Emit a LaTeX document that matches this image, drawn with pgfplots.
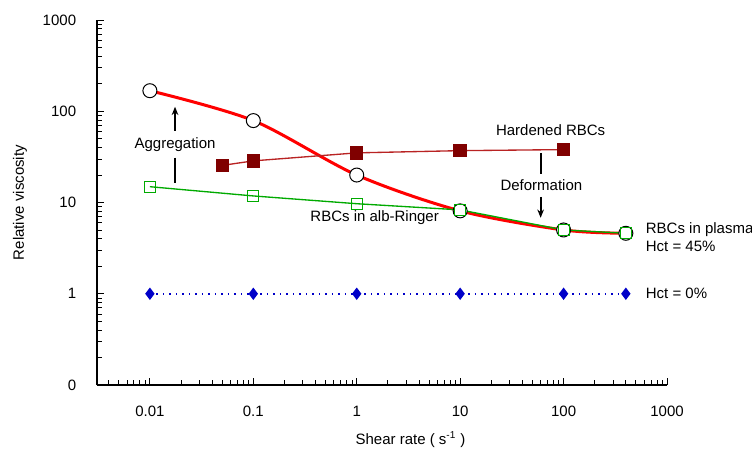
\documentclass[border=0pt]{standalone}
\usepackage{fontspec}
\setmainfont{Liberation Sans}
\usepackage{pgfplots}
\pgfplotsset{compat=1.18}
\usetikzlibrary{arrows.meta}

\definecolor{plasmared}{RGB}{255,0,0}
\definecolor{hardfill}{RGB}{128,0,0}
\definecolor{hardline}{RGB}{185,35,35}
\definecolor{ringer}{RGB}{0,170,0}
\definecolor{hct}{RGB}{0,0,200}

\begin{document}
\begin{tikzpicture}[font=\fontsize{9}{11}\selectfont]
\begin{axis}[
    name=ax,
    scale only axis,
    width=342pt, height=219pt,
    xmode=log, ymode=log,
    xmin=0.00308, xmax=1000,
    ymin=0.1, ymax=1000,
    axis lines=left,
    axis line style={-, line width=0.7pt},
    tick style={black, line width=0.5pt},
    tick align=inside,
    major tick length=4pt, minor tick length=3pt,
    xtick={0.01,0.1,1,10,100,1000},
    xticklabels={0.01,0.1,1,10,100,1000},
    minor xtick={0.004,0.005,0.006,0.007,0.008,0.009,
        0.02,0.03,0.04,0.05,0.06,0.07,0.08,0.09,
        0.2,0.3,0.4,0.5,0.6,0.7,0.8,0.9,
        2,3,4,5,6,7,8,9,20,30,40,50,60,70,80,90,
        200,300,400,500,600,700,800,900},
    ytick={0.1,1,10,100,1000},
    yticklabels={0,1,10,100,1000},
    minor ytick={0.2,0.3,0.4,0.5,0.6,0.7,0.8,0.9,
        2,3,4,5,6,7,8,9,20,30,40,50,60,70,80,90,
        200,300,400,500,600,700,800,900},
    xticklabel style={yshift=-9pt},
    yticklabel style={xshift=-9pt},
    xlabel={Shear rate ( s\textsuperscript{-1} )},
    ylabel={Relative viscosity},
    xlabel style={at={(axis description cs:0.55,-0.15)}, anchor=center},
    ylabel style={at={(axis description cs:-0.135,0.5)}, anchor=center},
    clip=false,
]
% Hct = 0%
\addplot[hct, line width=0.9pt, dash pattern=on 0.9pt off 3pt, mark=diamond*, mark size=3pt,
    mark options={solid, fill=hct}]
    coordinates {(0.01,1) (0.1,1) (1,1) (10,1) (100,1) (400,1)};
% RBCs in plasma, Hct = 45%
\addplot[plasmared, line width=1.8pt, smooth, mark=*, mark size=4.2pt,
    mark options={draw=black, fill=white, line width=0.6pt}]
    coordinates {(0.01,168) (0.1,79) (1,20) (10,8.1) (100,5.0) (400,4.6)};
% Hardened RBCs
\addplot[hardline, line width=0.8pt, mark=square*, mark size=3.6pt,
    mark options={draw=hardfill, fill=hardfill}]
    coordinates {(0.05,25.5) (0.1,28.6) (1,35) (10,37) (100,38)};
% RBCs in alb-Ringer
\addplot[ringer, line width=0.8pt, mark=square, mark size=3.3pt,
    mark options={fill=white, line width=0.7pt}]
    coordinates {(0.01,14.9) (0.1,11.8) (1,9.7) (10,8.3) (100,5.0) (400,4.6)};

% annotations
\draw[-{Stealth[length=5pt,width=4pt]}, line width=1.1pt] (axis cs:0.0175,61) -- (axis cs:0.0175,112);
\draw[line width=1.1pt] (axis cs:0.0175,31) -- (axis cs:0.0175,16.4);
\node at (axis cs:0.0175,43) {Aggregation};
\node at (axis cs:75,62) {Hardened RBCs};
\draw[line width=1.1pt] (axis cs:60,35) -- (axis cs:60,20.6);
\node at (axis cs:61,15.6) {Deformation};
\draw[-{Stealth[length=5pt,width=4pt]}, line width=1.1pt] (axis cs:60,11.5) -- (axis cs:60,6.8);
\node at (axis cs:1.49,6.8) {RBCs in alb-Ringer};
\node[anchor=west, inner sep=0pt] at (axis cs:620,5.0) {RBCs in plasma};
\node[anchor=west, inner sep=0pt] at (axis cs:620,3.27) {Hct = 45\%};
\node[anchor=west, inner sep=0pt] at (axis cs:620,1.0) {Hct = 0\%};
\end{axis}
\pgfresetboundingbox
\path ([xshift=-58.2pt, yshift=-43.2pt] ax.south west) rectangle ([xshift=51pt, yshift=12pt] ax.north east);
\end{tikzpicture}
\end{document}
